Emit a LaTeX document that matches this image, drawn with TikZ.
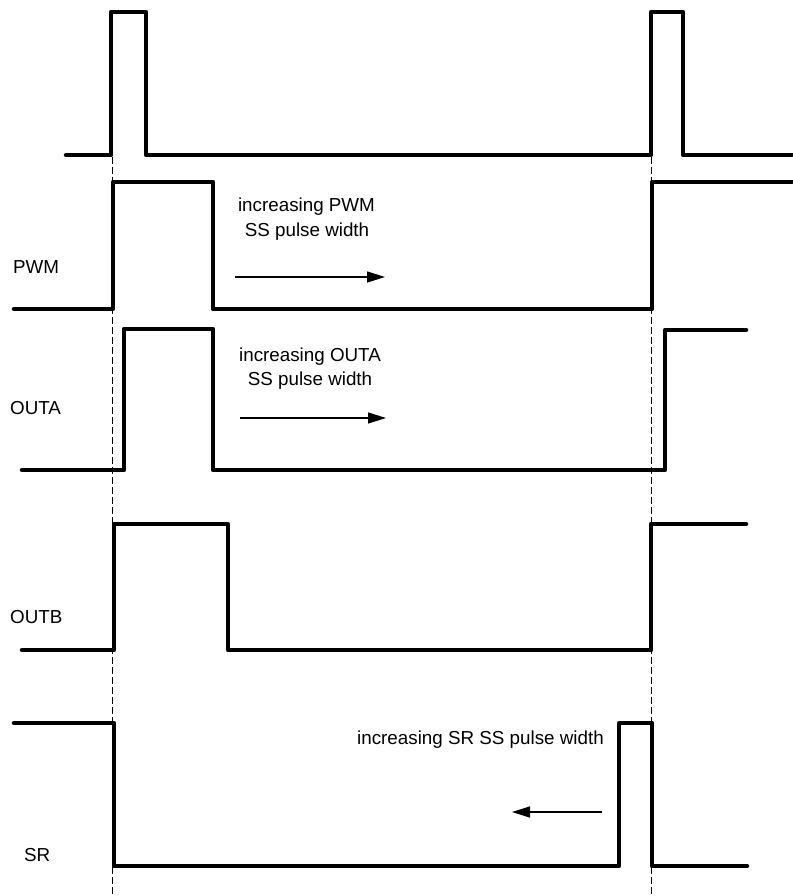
\documentclass[tikz,border=0pt]{standalone}
\usepackage{fontspec}
\setmainfont{Liberation Sans}
\usetikzlibrary{arrows.meta}
\begin{document}
\begin{tikzpicture}[x=1pt,y=-1pt,
  sig/.style={line width=4.5pt,line join=round,line cap=round},
  guide/.style={line width=0.8pt,dash pattern=on 7pt off 3pt},
  lbl/.style={font=\fontsize{18.8}{22}\selectfont,inner sep=0pt},
  arr/.style={line width=1.4pt,-{Triangle[length=18pt,width=11pt]}}]
\useasboundingbox (0,0) rectangle (792,896);
% guide lines
\draw[guide] (112,157) -- (112,896);
\draw[guide] (651,157) -- (651,896);
% clock
\draw[sig] (66,155) -- (111,155) -- (111,12) -- (146,12) -- (146,155) -- (651,155) -- (651,12) -- (683,12) -- (683,155) -- (792,155);
% PWM
\draw[sig] (14,309) -- (113,309) -- (113,182) -- (213,182) -- (213,309) -- (652,309) -- (652,182) -- (792,182);
% OUTA
\draw[sig] (22,470) -- (124,470) -- (124,329) -- (213,329) -- (213,470) -- (665,470) -- (665,330) -- (746,330);
% OUTB
\draw[sig] (22,650) -- (114,650) -- (114,524) -- (228,524) -- (228,650) -- (651,650) -- (651,524) -- (746,524);
% SR
\draw[sig] (14,723) -- (114,723) -- (114,866) -- (619,866) -- (619,723) -- (652,723) -- (652,866) -- (747,866);
% labels
\node[lbl,anchor=west] (lpwm) at (13,267) {PWM};
\node[lbl,anchor=west] (louta) at (10,408) {OUTA};
\node[lbl,anchor=west] (loutb) at (10,617) {OUTB};
\node[lbl,anchor=west] (lsr) at (24,855) {SR};
% annotations
\node[lbl] (tp1) at (306.5,207) {increasing PWM};
\node[lbl] (tp2) at (307,232) {SS pulse width};
\coordinate (ap1) at (235,277);
\coordinate (ap2) at (385,277);
\draw[arr] (ap1) -- (ap2);
\node[lbl] (ta1) at (310,357) {increasing OUTA};
\node[lbl] (ta2) at (310,381) {SS pulse width};
\coordinate (aa1) at (240,418);
\coordinate (aa2) at (386,418);
\draw[arr] (aa1) -- (aa2);
\node[lbl,anchor=east] (tsr) at (604,740) {increasing SR SS pulse width};
\coordinate (as1) at (602,812);
\coordinate (as2) at (512,812);
\draw[arr] (as1) -- (as2);
\end{tikzpicture}
\end{document}
